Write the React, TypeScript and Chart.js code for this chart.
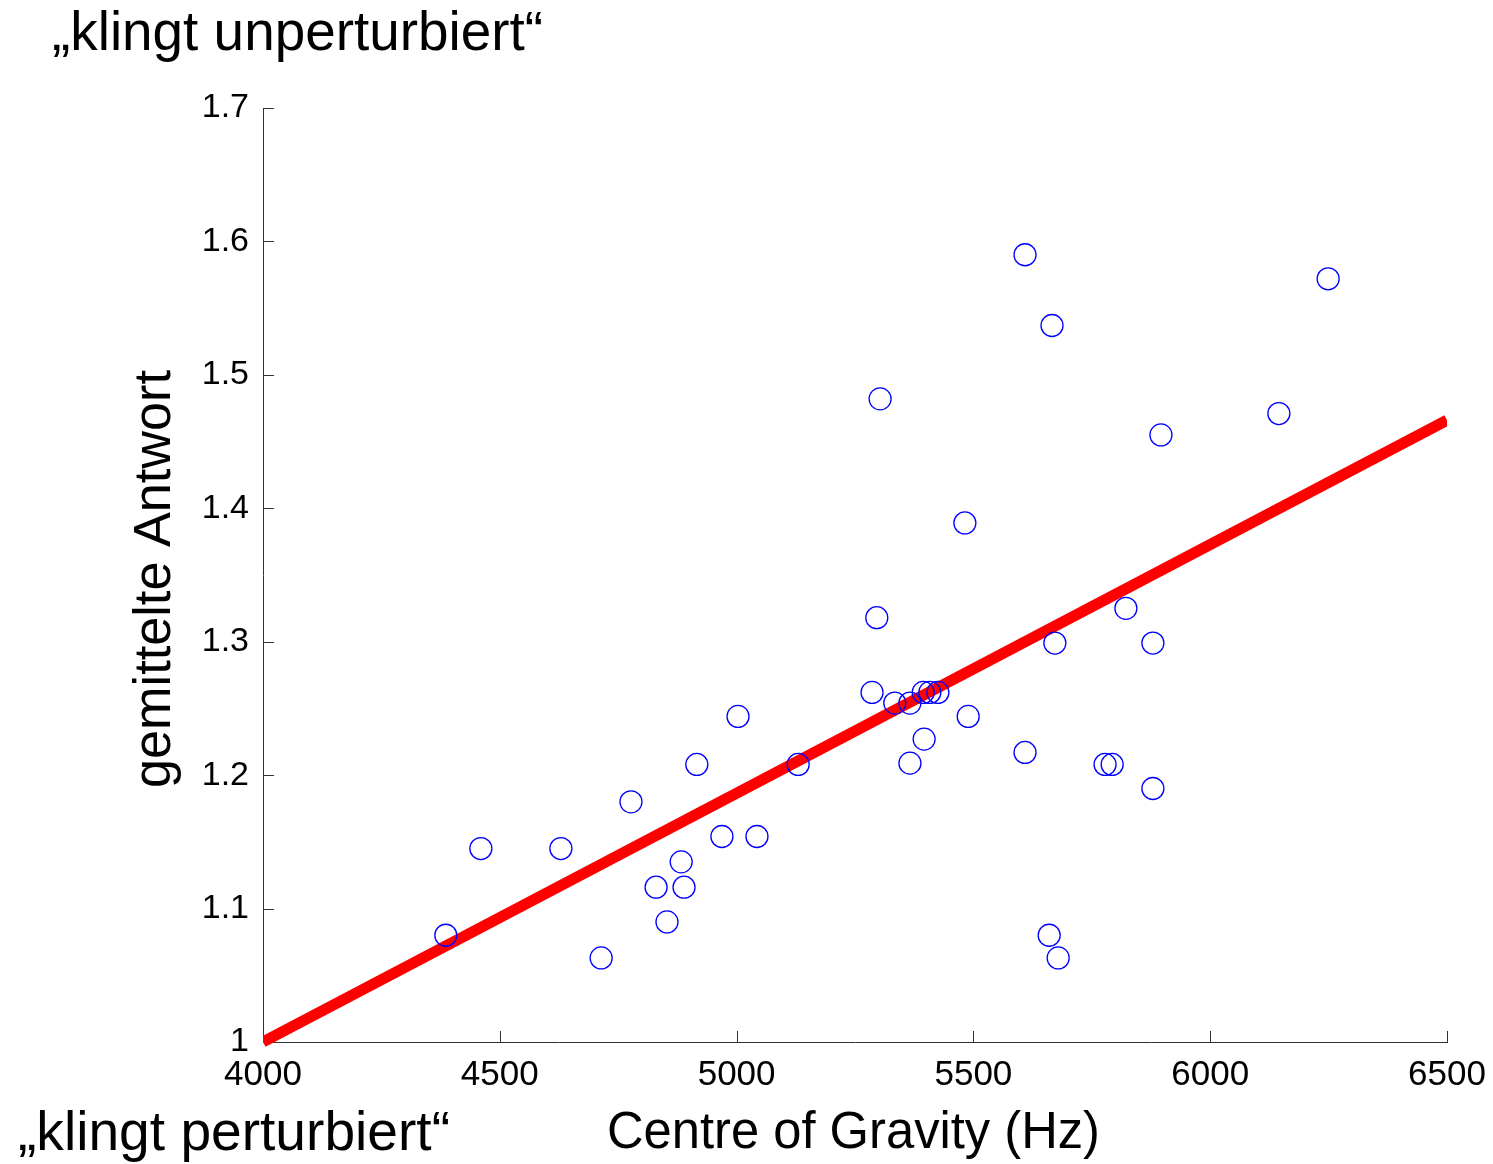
import React, { useEffect, useRef } from "react";
import { Chart, registerables } from "chart.js";

Chart.register(...registerables);

const cogHz = [
  4386, 4460, 4629, 4714, 4777, 4830, 4853, 4883, 4889, 4916,
  4969, 5003, 5043, 5130, 5286, 5296, 5303, 5334, 5366, 5366,
  5394, 5396, 5408, 5425, 5482, 5489, 5609, 5609, 5660, 5666,
  5672, 5679, 5778, 5793, 5822, 5879, 5879, 5896, 6145, 6249,
];
const meanResponse = [
  1.08, 1.145, 1.145, 1.063, 1.18, 1.116, 1.09, 1.135, 1.116, 1.208,
  1.154, 1.244, 1.154, 1.208, 1.262, 1.318, 1.482, 1.254, 1.254, 1.209,
  1.262, 1.227, 1.262, 1.262, 1.389, 1.244, 1.59, 1.217, 1.08, 1.537,
  1.299, 1.063, 1.208, 1.208, 1.325, 1.299, 1.19, 1.455, 1.471, 1.572,
];
const fitX = [4000, 6500];
const fitY = [1.0, 1.466];

const xLabel = "Centre of Gravity (Hz)";
const yLabel = "gemittelte Antwort";
const topNote = "\u201Eklingt unperturbiert\u201C";
const bottomNote = "\u201Eklingt perturbiert\u201C";

const FONT = "'Liberation Sans', Arial, sans-serif";

function fitText(ctx: CanvasRenderingContext2D, text: string, x: number, y: number, w: number, size: number, rot = 0) {
  ctx.save();
  ctx.font = `${size}px ${FONT}`;
  const mw = ctx.measureText(text).width;
  ctx.translate(x, y);
  if (rot) ctx.rotate(rot);
  ctx.scale(w / mw, 1);
  ctx.fillStyle = "#000";
  ctx.textBaseline = "alphabetic";
  ctx.textAlign = "left";
  ctx.fillText(text, 0, 0);
  ctx.restore();
}

const decorPlugin = {
  id: "decor",
  beforeDatasetsDraw(chart: any) {
    const ctx = chart.ctx as CanvasRenderingContext2D;
    const xs = chart.scales.x;
    const ys = chart.scales.y;
    const area = chart.chartArea;
    ctx.save();
    ctx.strokeStyle = "#333";
    ctx.lineWidth = 1;
    ctx.beginPath();
    xs.ticks.forEach((t: any) => {
      const px = Math.round(xs.getPixelForValue(t.value)) + 0.5;
      ctx.moveTo(px, area.bottom);
      ctx.lineTo(px, area.bottom - 11);
    });
    ys.ticks.forEach((t: any) => {
      const py = Math.round(ys.getPixelForValue(t.value)) + 0.5;
      ctx.moveTo(area.left, py);
      ctx.lineTo(area.left + 11, py);
    });
    ctx.stroke();
    ctx.restore();
  },
  afterDraw(chart: any) {
    const ctx = chart.ctx as CanvasRenderingContext2D;
    fitText(ctx, topNote, 52, 50, 491, 56);
    fitText(ctx, bottomNote, 18, 1150, 432, 56);
    fitText(ctx, xLabel, 607, 1148, 493, 51);
    fitText(ctx, yLabel, 170, 788, 418, 51, -Math.PI / 2);
  },
};

export default function App() {
  const ref = useRef<HTMLCanvasElement | null>(null);
  useEffect(() => {
    if (!ref.current) return;
    const chart = new Chart(ref.current, {
      type: "scatter",
      data: {
        datasets: [
          {
            label: "data",
            data: cogHz.map((x, i) => ({ x, y: meanResponse[i] })),
            pointStyle: "circle",
            pointRadius: 11,
            pointBorderWidth: 1.3,
            pointBorderColor: "#0000ff",
            pointBackgroundColor: "rgba(0,0,0,0)",
            showLine: false,
          },
          {
            label: "fit",
            data: fitX.map((x, i) => ({ x, y: fitY[i] })),
            showLine: true,
            borderColor: "#ff0000",
            borderWidth: 11,
            borderCapStyle: "butt",
            pointRadius: 0,
            clip: { left: 0, right: 0, top: 0, bottom: 6 },
          } as any,
        ],
      },
      options: {
        animation: false,
        responsive: false,
        devicePixelRatio: 1,
        layout: { padding: { top: 108, right: 46, left: 0, bottom: 0 } },
        plugins: { legend: { display: false }, tooltip: { enabled: false } },
        scales: {
          x: {
            type: "linear",
            min: 4000,
            max: 6500,
            ticks: {
              stepSize: 500,
              color: "#000",
              font: { family: FONT, size: 35 },
              padding: 12,
              maxRotation: 0,
              callback: (v: any) => String(v),
            },
            grid: { display: true, drawOnChartArea: false, drawTicks: false },
            border: { display: true, color: "#333", width: 1 },
            afterFit: (s: any) => {
              s.height = 122;
              s.paddingLeft = 0;
              s.paddingRight = 0;
            },
          },
          y: {
            type: "linear",
            min: 1,
            max: 1.7,
            ticks: {
              stepSize: 0.1,
              color: "#000",
              font: { family: FONT, size: 34 },
              padding: 14,
              callback: (v: any) => String(Number(Number(v).toFixed(1))),
            },
            grid: { display: true, drawOnChartArea: false, drawTicks: false },
            border: { display: true, color: "#333", width: 1 },
            afterFit: (s: any) => {
              s.width = 263;
              s.paddingTop = 0;
              s.paddingBottom = 0;
            },
          },
        },
      },
      plugins: [decorPlugin],
    });
    return () => chart.destroy();
  }, []);
  return (
    <div style={{ position: "absolute", left: 0, top: 0, width: 1493, height: 1164, background: "#fff" }}>
      <canvas ref={ref} width={1493} height={1164} />
    </div>
  );
}
